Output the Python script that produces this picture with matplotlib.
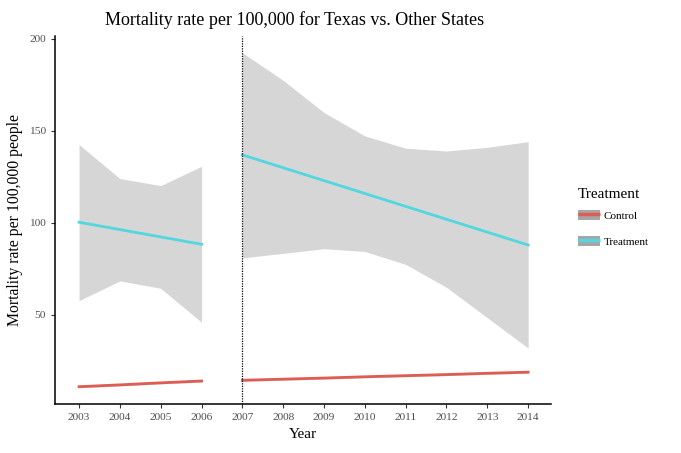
import matplotlib
matplotlib.use("Agg")
import matplotlib.pyplot as plt
from matplotlib.patches import Patch
from matplotlib.lines import Line2D
from matplotlib.legend_handler import HandlerTuple

plt.rcParams['font.family'] = ['Liberation Serif', 'DejaVu Serif']

# dane
lata_przed = [2003, 2004, 2005, 2006]
lata_po = [2007, 2008, 2009, 2010, 2011, 2012, 2013, 2014]

kontrola_przed = [11.0, 12.0, 13.1, 14.1]
kontrola_po = [14.5, 15.1, 15.7, 16.4, 17.0, 17.6, 18.3, 18.9]

leczenie_przed = [100.4, 96.4, 92.4, 88.4]
leczenie_przed_gora = [142.6, 124.1, 120.3, 130.8]
leczenie_przed_dol = [57.8, 68.5, 64.5, 46.0]

leczenie_po = [137.0, 130.0, 123.0, 116.0, 109.0, 102.0, 95.0, 88.0]
leczenie_po_gora = [192.5, 177.5, 160.0, 147.3, 140.6, 139.1, 141.1, 144.2]
leczenie_po_dol = [81.0, 83.5, 86.0, 84.5, 77.5, 65.0, 48.5, 32.0]

rok_interwencji = 2007
lata_ticki = list(range(2003, 2015))
y_ticki = [50, 100, 150, 200]

kolor_kontrola = '#DE5C52'
kolor_leczenie = '#52D6DF'
kolor_pasma = '#D6D6D6'

fig = plt.figure(figsize=(6.81, 4.53), dpi=100)
ax = fig.add_axes([55/681, 1-404/453, (551-55)/681, (404-36)/453])

# pasma ufności
ax.fill_between(lata_przed, leczenie_przed_dol, leczenie_przed_gora, color=kolor_pasma, lw=0)
ax.fill_between(lata_po, leczenie_po_dol, leczenie_po_gora, color=kolor_pasma, lw=0)
ax.fill_between(lata_przed, [v - 0.6 for v in kontrola_przed], [v + 0.6 for v in kontrola_przed], color=kolor_pasma, lw=0)
ax.fill_between(lata_po, [v - 0.6 for v in kontrola_po], [v + 0.6 for v in kontrola_po], color=kolor_pasma, lw=0)

# linie trendu
ax.plot(lata_przed, kontrola_przed, color=kolor_kontrola, lw=2)
ax.plot(lata_po, kontrola_po, color=kolor_kontrola, lw=2)
ax.plot(lata_przed, leczenie_przed, color=kolor_leczenie, lw=2)
ax.plot(lata_po, leczenie_po, color=kolor_leczenie, lw=2)

ax.axvline(rok_interwencji, color='black', ls=(0, (1, 1)), lw=0.9)

ax.set_xlim(2002.41, 2014.56)
ax.set_ylim(1.6, 201.6)
ax.set_xticks(lata_ticki)
ax.set_yticks(y_ticki)
ax.tick_params(axis='both', labelsize=8.2, labelcolor='#4D4D4D', length=3, width=0.8, color='#333333')
for s in ['top', 'right']:
    ax.spines[s].set_visible(False)
for s in ['left', 'bottom']:
    ax.spines[s].set_linewidth(1.1)

ax.set_xlabel('Year', fontsize=11, labelpad=4)
ax.set_ylabel('Mortality rate per 100,000 people', fontsize=11.3, labelpad=4)
ax.set_title('Mortality rate per 100,000 for Texas vs. Other States', fontsize=13, pad=8, x=0.482)

# legenda (tytuł osobno, żeby ustawić odstępy jak w oryginale)
fig.text(578/681, 1-195/453, 'Treatment', fontsize=11, va='center', ha='left')
uchwyty = [
    (Patch(facecolor='#A6A6A6', edgecolor='none'),
     Line2D([], [], color=kolor_kontrola, lw=2.5, solid_capstyle='butt')),
    (Patch(facecolor='#A6A6A6', edgecolor='none'),
     Line2D([], [], color=kolor_leczenie, lw=2.5, solid_capstyle='butt')),
]
leg = fig.legend(uchwyty, ['Control', 'Treatment'],
                 handler_map={tuple: HandlerTuple(ndivide=1, pad=0)},
                 loc='upper left', bbox_to_anchor=(578/681, 1-210/453),
                 frameon=False, fontsize=8, borderpad=0, borderaxespad=0,
                 handlelength=2.0, handleheight=1.0, labelspacing=1.35, handletextpad=0.3)

fig.savefig('out.png', dpi=100)
